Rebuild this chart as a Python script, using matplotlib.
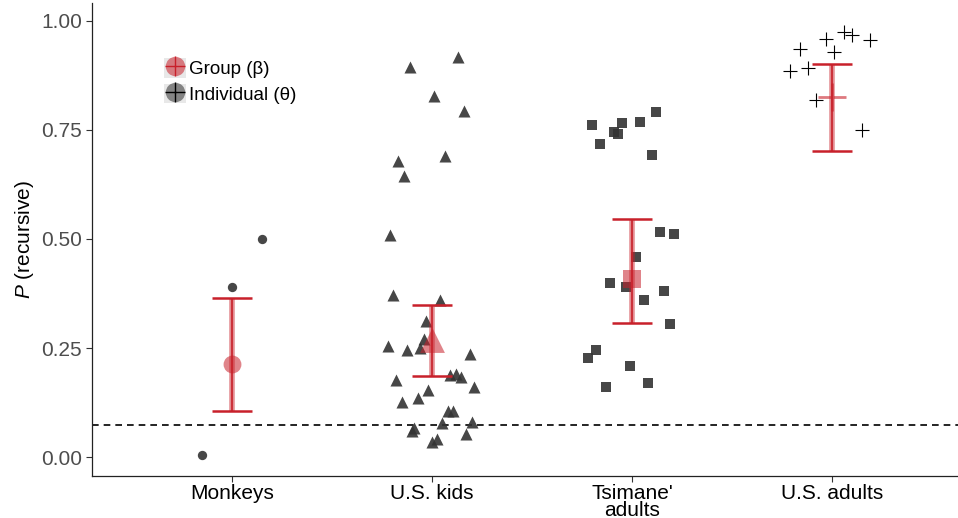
import matplotlib
matplotlib.use("Agg")
import matplotlib.pyplot as plt
from matplotlib.lines import Line2D
from matplotlib.patches import Rectangle
from matplotlib.legend_handler import HandlerTuple

plt.rcParams['font.family'] = ['Liberation Sans', 'DejaVu Sans']
plt.rcParams['mathtext.fontset'] = 'custom'
plt.rcParams['mathtext.it'] = 'Liberation Sans:italic'
plt.rcParams['mathtext.rm'] = 'Liberation Sans'

categories = ["Monkeys", "U.S. kids", "Tsimane'\nadults", "U.S. adults"]
markers = ['o', '^', 's', '+']

# individual estimates (x = jittered position, y = P recursive)
monkeys_x = [1.15, 1.00, 0.85]
monkeys_y = [0.499, 0.389, 0.005]

kids_x = [2.13, 1.89, 2.01, 2.16, 1.83, 2.065, 1.86, 1.79, 1.805, 2.04, 1.97, 1.96,
          1.78, 1.875, 1.94, 2.19, 1.82, 2.09, 2.12, 2.147, 2.21, 1.85, 1.93, 1.98,
          2.08, 2.107, 2.05, 2.20, 1.91, 1.90, 2.17, 2.025, 2.0]
kids_y = [0.917, 0.893, 0.827, 0.793, 0.678, 0.689, 0.643, 0.508, 0.371, 0.361, 0.313, 0.270,
          0.254, 0.246, 0.251, 0.236, 0.178, 0.188, 0.191, 0.184, 0.162, 0.127, 0.135, 0.153,
          0.107, 0.105, 0.078, 0.081, 0.066, 0.060, 0.053, 0.042, 0.035]

tsimane_x = [3.12, 2.80, 2.95, 3.04, 2.91, 2.93, 2.84, 3.10, 3.14, 3.21, 3.02, 2.89,
             2.97, 3.16, 3.06, 3.19, 2.82, 2.78, 2.99, 3.08, 2.87]
tsimane_y = [0.791, 0.761, 0.766, 0.768, 0.744, 0.741, 0.718, 0.693, 0.516, 0.512, 0.459, 0.400,
             0.389, 0.381, 0.361, 0.306, 0.246, 0.228, 0.208, 0.169, 0.160]

adults_x = [3.84, 3.97, 4.06, 4.10, 4.19, 4.01, 3.79, 3.88, 3.92, 4.15]
adults_y = [0.934, 0.957, 0.973, 0.966, 0.956, 0.928, 0.885, 0.891, 0.818, 0.749]

# group estimates with intervals
group_mean = [0.213, 0.268, 0.409, 0.826]
group_lo = [0.107, 0.187, 0.308, 0.702]
group_hi = [0.365, 0.349, 0.545, 0.900]

chance = 0.073

ind_x = [monkeys_x, kids_x, tsimane_x, adults_x]
ind_y = [monkeys_y, kids_y, tsimane_y, adults_y]

red = '#c8202a'
dark = '#333333'
fs = 15

fig = plt.figure(figsize=(9.58, 5.18), dpi=100)
ax = fig.add_axes([0.096, 0.081, 0.904, 0.913])

ax.axhline(chance, color='black', linestyle=(0, (4, 3)), linewidth=1.2, zorder=1)

ind_size = {'o': 45, '^': 75, 's': 42, '+': 100}
grp_size = {'o': 165, '^': 320, 's': 165, '+': 380}

for i in range(4):
    m = markers[i]
    if m == '+':
        ax.scatter(ind_x[i], ind_y[i], marker='+', s=ind_size[m], color='black',
                   linewidths=0.8, zorder=3)
    else:
        ax.scatter(ind_x[i], ind_y[i], marker=m, s=ind_size[m], color=dark, alpha=0.9,
                   linewidths=0, zorder=3)

    xpos = i + 1
    ax.vlines(xpos, group_lo[i], group_hi[i], color=red, alpha=0.5, linewidth=4, zorder=4)
    ax.vlines(xpos, group_lo[i], group_hi[i], color=red, linewidth=1.2, zorder=4)
    ax.hlines([group_lo[i], group_hi[i]], xpos - 0.1, xpos + 0.1, color=red, linewidth=1.8, zorder=4)
    if m == '+':
        ax.scatter([xpos], [group_mean[i]], marker='+', s=grp_size[m], color=red, alpha=0.6,
                   linewidths=2, zorder=5)
    else:
        ax.scatter([xpos], [group_mean[i]], marker=m, s=grp_size[m], color=red, alpha=0.55,
                   linewidths=0, zorder=5)

ax.set_xlim(0.3, 4.63)
ax.set_ylim(-0.043, 1.04)
ax.set_xticks([1, 2, 3, 4])
ax.set_xticklabels(categories, fontsize=fs, color='black', linespacing=0.82)
ax.set_yticks([0, 0.25, 0.5, 0.75, 1.0])
ax.set_yticklabels(['0.00', '0.25', '0.50', '0.75', '1.00'], fontsize=fs, color='#4d4d4d')
ax.tick_params(axis='y', length=4, width=0.8, color='#333333', pad=3)
ax.tick_params(axis='x', length=4, width=0.8, color='#333333', pad=2)
ax.set_ylabel(r'$\mathit{P}$ (recursive)', fontsize=fs, labelpad=4)
for s in ['top', 'right']:
    ax.spines[s].set_visible(False)
for s in ['left', 'bottom']:
    ax.spines[s].set_linewidth(0.9)
    ax.spines[s].set_color('#222222')

bg = '#e8e8e8'
h_group = (Rectangle((0, 0), 1, 1, facecolor=bg, edgecolor='none'),
           Line2D([], [], marker='o', markersize=14, color=red, alpha=0.55, linestyle='none',
                  markeredgewidth=0),
           Line2D([], [], marker='+', markersize=14, color=red, linestyle='none',
                  markeredgewidth=1.0))
h_ind = (Rectangle((0, 0), 1, 1, facecolor=bg, edgecolor='none'),
         Line2D([], [], marker='o', markersize=14, color=dark, alpha=0.55, linestyle='none',
                markeredgewidth=0),
         Line2D([], [], marker='+', markersize=14, color='black', linestyle='none',
                markeredgewidth=1.0))
ax.legend([h_group, h_ind], ['Group (β)', 'Individual (θ)'],
          handler_map={tuple: HandlerTuple(ndivide=1, pad=0)},
          loc='upper left', bbox_to_anchor=(0.072, 0.903), frameon=False,
          fontsize=13.5, handlelength=1.2, handleheight=1.2, handletextpad=0.15,
          labelspacing=0.3, borderpad=0)

fig.savefig('out.png', dpi=100)
